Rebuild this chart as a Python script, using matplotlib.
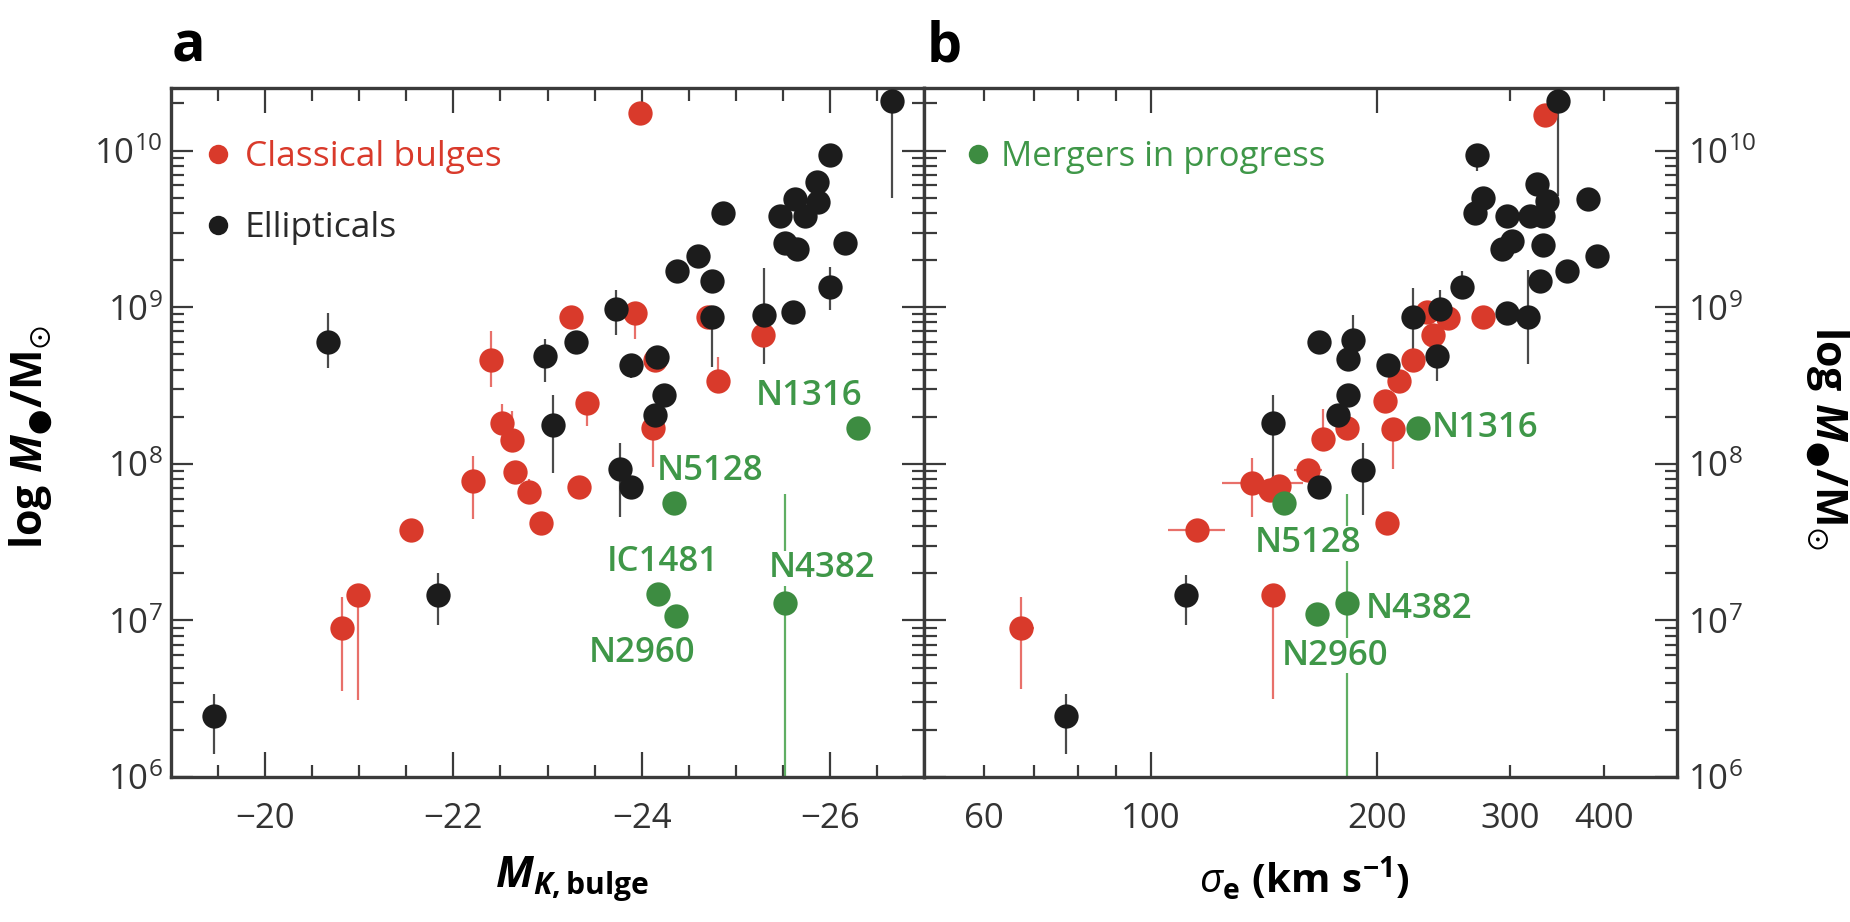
import numpy as np
import matplotlib
matplotlib.use("Agg")
import matplotlib.pyplot as plt
from matplotlib.lines import Line2D
from matplotlib.ticker import FixedLocator, FuncFormatter, LogLocator, NullFormatter, LogFormatterMathtext

plt.rcParams["font.family"] = ["Open Sans", "DejaVu Sans"]
plt.rcParams["mathtext.fontset"] = "custom"
plt.rcParams["mathtext.rm"] = "Open Sans"
plt.rcParams["mathtext.it"] = "Open Sans:italic"
plt.rcParams["mathtext.bf"] = "Open Sans:bold"
plt.rcParams["mathtext.bfit"] = "Open Sans:bold:italic"
plt.rcParams["mathtext.default"] = "regular"

RED = "#d93a2b"
RED_ERR = "#e8706a"
BLACK = "#1c1c1c"
BLACK_ERR = "#4a4a4a"
GREEN = "#3d8c41"
GREEN_TXT = "#3f9748"
GREEN_ERR = "#5fae63"
AXC = "#3a3a3a"

# ---- panel a : M_K,bulge vs log M_BH ----
bulge_mk = [-20.82, -20.99, -21.55, -22.21, -22.40, -22.52, -22.62, -22.66, -22.80, -22.93,
            -23.25, -23.33, -23.42, -23.93, -23.98, -24.12, -24.14, -24.71, -24.81, -25.29]
bulge_logm_a = [6.95, 7.16, 7.58, 7.89, 8.66, 8.26, 8.15, 7.95, 7.82, 7.62,
                8.94, 7.85, 8.39, 8.96, 10.24, 8.23, 8.66, 8.94, 8.53, 8.82]
bulge_lo_a = [6.55, 6.49, 7.58, 7.65, 8.49, 8.26, 8.15, 7.95, 7.78, 7.62,
              8.94, 7.85, 8.24, 8.80, 10.24, 7.98, 8.66, 8.94, 8.53, 8.82]
bulge_hi_a = [7.15, 7.16, 7.58, 8.05, 8.85, 8.38, 8.34, 7.95, 7.90, 7.62,
              8.94, 7.85, 8.39, 8.96, 10.24, 8.23, 8.66, 8.94, 8.68, 8.82]

ell_mk = [-19.46, -20.67, -21.84, -22.97, -23.06, -23.30, -23.73, -23.77, -23.89, -23.89,
          -24.16, -24.24, -24.14, -24.38, -24.60, -24.75, -24.75, -24.86, -25.30, -25.61,
          -26.00, -25.47, -25.74, -25.63, -25.52, -25.65, -25.86, -25.87, -26.00, -26.16, -26.66]
ell_logm_a = [6.39, 8.78, 7.16, 8.69, 8.25, 8.78, 8.99, 7.97, 7.85, 8.63,
              8.68, 8.44, 8.31, 9.23, 9.33, 9.17, 8.94, 9.60, 8.95, 8.97,
              9.13, 9.58, 9.58, 9.69, 9.41, 9.37, 9.80, 9.67, 9.97, 9.41, 10.32]
ell_lo_a = [6.15, 8.61, 6.97, 8.52, 7.94, 8.78, 8.82, 7.66, 7.85, 8.55,
            8.68, 8.44, 8.25, 9.23, 9.33, 9.17, 8.62, 9.60, 8.64, 8.97,
            8.98, 9.58, 9.58, 9.69, 9.41, 9.37, 9.80, 9.67, 9.97, 9.41, 9.70]
ell_hi_a = [6.53, 8.96, 7.30, 8.80, 8.44, 8.78, 9.11, 8.13, 7.85, 8.63,
            8.68, 8.44, 8.31, 9.23, 9.40, 9.17, 8.94, 9.60, 9.25, 8.97,
            9.26, 9.58, 9.58, 9.69, 9.41, 9.37, 9.80, 9.67, 10.02, 9.41, 10.50]

merger_names_a = ["N5128", "N1316", "IC1481", "N2960", "N4382"]
merger_mk = [-24.34, -26.30, -24.17, -24.37, -25.52]
merger_logm_a = [7.75, 8.23, 7.17, 7.03, 7.11]
merger_lo_a = [7.75, 8.23, 7.17, 7.03, 5.00]
merger_hi_a = [7.75, 8.23, 7.17, 7.03, 7.81]

# ---- panel b : sigma_e vs log M_BH ----
bulge_sig = [67.3, 145.2, 115.3, 206.0, 136.4, 144.0, 148.0, 161.8, 169.4, 182.4,
             209.8, 204.7, 214.0, 223.0, 237.0, 248.0, 233.0, 276.0, 334.0]
bulge_sig_lo = [65.0, 141.0, 105.5, 199.0, 124.5, 139.0, 143.0, 155.0, 164.0, 176.0,
                203.0, 198.0, 207.0, 216.0, 229.0, 240.0, 226.0, 267.0, 323.0]
bulge_sig_hi = [70.0, 151.0, 125.6, 213.0, 159.3, 149.0, 153.0, 169.0, 175.0, 189.0,
                217.0, 212.0, 221.0, 230.0, 245.0, 256.0, 240.0, 285.0, 345.0]
bulge_logm_b = [6.95, 7.16, 7.58, 7.62, 7.88, 7.83, 7.86, 7.96, 8.16, 8.23,
                8.22, 8.40, 8.53, 8.66, 8.82, 8.93, 8.97, 8.94, 10.23]
bulge_lo_b = [6.56, 6.50, 7.58, 7.62, 7.66, 7.83, 7.86, 7.96, 8.16, 8.23,
              7.97, 8.40, 8.53, 8.66, 8.82, 8.93, 8.97, 8.94, 10.23]
bulge_hi_b = [7.15, 7.16, 7.58, 7.62, 8.04, 7.83, 7.86, 7.96, 8.35, 8.23,
              8.22, 8.40, 8.53, 8.66, 8.82, 8.93, 8.97, 8.94, 10.23]

ell_sig = [77.3, 111.4, 191.4, 167.5, 145.2, 177.4, 183.0, 167.5, 185.8, 183.0,
           206.6, 240.0, 223.0, 242.0, 259.0, 297.0, 317.0, 329.0, 357.0, 392.0,
           293.0, 302.0, 332.0, 381.0, 270.0, 297.0, 319.0, 332.0, 276.0, 336.0,
           326.0, 271.0, 347.5]
ell_logm_b = [6.39, 7.16, 7.96, 7.85, 8.26, 8.31, 8.44, 8.78, 8.79, 8.67,
              8.63, 8.69, 8.94, 8.99, 9.13, 8.96, 8.94, 9.17, 9.23, 9.33,
              9.37, 9.42, 9.40, 9.69, 9.60, 9.58, 9.58, 9.58, 9.70, 9.68,
              9.79, 9.97, 10.32]
ell_lo_b = [6.15, 6.97, 7.67, 7.85, 7.91, 8.31, 8.44, 8.78, 8.79, 8.67,
            8.63, 8.53, 8.62, 8.85, 9.13, 8.96, 8.64, 9.17, 9.23, 9.33,
            9.37, 9.42, 9.40, 9.62, 9.60, 9.58, 9.58, 9.58, 9.70, 9.68,
            9.79, 9.87, 9.71]
ell_hi_b = [6.53, 7.29, 8.13, 7.85, 8.44, 8.31, 8.44, 8.78, 8.95, 8.67,
            8.63, 8.69, 9.12, 9.11, 9.23, 8.96, 9.24, 9.17, 9.23, 9.40,
            9.37, 9.42, 9.40, 9.69, 9.60, 9.58, 9.58, 9.58, 9.70, 9.68,
            9.79, 10.02, 10.50]

merger_names_b = ["N5128", "N1316", "N2960", "N4382"]
merger_sig = [150.4, 226.5, 166.4, 182.4]
merger_logm_b = [7.75, 8.23, 7.04, 7.11]
merger_lo_b = [7.75, 8.23, 7.04, 5.00]
merger_hi_b = [7.75, 8.23, 7.04, 7.81]

# label offsets (points) and alignment, keyed by name
lab_a = {"N1316": (-35, 23, "center"), "N5128": (26, 23, "center"), "IC1481": (4, 23, "center"),
         "N4382": (27, 25, "center"), "N2960": (-25, -27, "center")}
lab_b = {"N1316": (10, 0, "left"), "N5128": (17, -29, "center"),
         "N4382": (13, -4, "left"), "N2960": (13, -30, "center")}


def draw_group(ax, x, logm, lo, hi, color, ecolor, xlo=None, xhi=None, ms=17.5):
    x = np.asarray(x, float)
    m = 10 ** np.asarray(logm)
    yerr = [m - 10 ** np.asarray(lo), 10 ** np.asarray(hi) - m]
    xerr = None
    if xlo is not None:
        xerr = [x - np.asarray(xlo), np.asarray(xhi) - x]
    ax.errorbar(x, m, yerr=yerr, xerr=xerr, fmt="none", ecolor=ecolor,
                elinewidth=1.6, capsize=0, zorder=2)
    ax.plot(x, m, "o", ms=ms, color=color, mew=0, zorder=3, clip_on=False)


fig = plt.figure(figsize=(18.5, 9.22), dpi=100)
W, H = 1850, 922
axL = fig.add_axes([171 / W, 1 - 777 / H, 753 / W, 689 / H])
axR = fig.add_axes([924 / W, 1 - 777 / H, 753 / W, 689 / H])

# panel a
draw_group(axL, bulge_mk, bulge_logm_a, bulge_lo_a, bulge_hi_a, RED, RED_ERR)
draw_group(axL, ell_mk, ell_logm_a, ell_lo_a, ell_hi_a, BLACK, BLACK_ERR)
draw_group(axL, merger_mk, merger_logm_a, merger_lo_a, merger_hi_a, GREEN, GREEN_ERR)
for name, x, lm in zip(merger_names_a, merger_mk, merger_logm_a):
    dx, dy, ha = lab_a[name]
    axL.annotate(name, (x, 10 ** lm), xytext=(dx, dy), textcoords="offset points",
                 ha=ha, va="center", fontsize=25, fontweight="semibold", color=GREEN_TXT,
                 zorder=4, bbox=dict(facecolor="white", edgecolor="none", pad=0.5))

# panel b
draw_group(axR, bulge_sig, bulge_logm_b, bulge_lo_b, bulge_hi_b, RED, RED_ERR,
           xlo=bulge_sig_lo, xhi=bulge_sig_hi)
draw_group(axR, ell_sig, ell_logm_b, ell_lo_b, ell_hi_b, BLACK, BLACK_ERR)
draw_group(axR, merger_sig, merger_logm_b, merger_lo_b, merger_hi_b, GREEN, GREEN_ERR)
for name, x, lm in zip(merger_names_b, merger_sig, merger_logm_b):
    dx, dy, ha = lab_b[name]
    axR.annotate(name, (x, 10 ** lm), xytext=(dx, dy), textcoords="offset points",
                 ha=ha, va="center", fontsize=25, fontweight="semibold", color=GREEN_TXT,
                 zorder=4, bbox=dict(facecolor="white", edgecolor="none", pad=0.3))

for ax in (axL, axR):
    ax.set_yscale("log")
    ax.set_ylim(1e6, 10 ** 10.40)
    ax.yaxis.set_major_locator(LogLocator(base=10, numticks=10))
    ax.yaxis.set_minor_locator(LogLocator(base=10, subs=np.arange(2, 10), numticks=20))
    ax.yaxis.set_minor_formatter(NullFormatter())
    ax.yaxis.set_major_formatter(LogFormatterMathtext())
    for s in ax.spines.values():
        s.set_linewidth(2.4)
        s.set_color(AXC)
    ax.tick_params(axis="x", which="major", direction="in", length=18, width=1.6,
                   top=True, bottom=True, color=AXC, labelsize=25, labelcolor="#333333", pad=18)
    ax.tick_params(axis="x", which="minor", direction="in", length=9, width=1.6,
                   top=True, bottom=True, color=AXC, labelsize=25, labelcolor="#333333", pad=18)
    ax.tick_params(axis="y", which="major", direction="in", length=16, width=1.6,
                   left=True, right=True, color=AXC, labelsize=25, labelcolor="#333333")
    ax.tick_params(axis="y", which="minor", direction="in", length=9, width=1.6,
                   left=True, right=True, color=AXC)

axL.set_xlim(-19, -27)
axL.xaxis.set_major_locator(FixedLocator([-20, -22, -24, -26]))
axL.xaxis.set_minor_locator(FixedLocator(np.arange(-19.5, -27.0, -0.5)))
axL.xaxis.set_major_formatter(FuncFormatter(lambda v, p: "\u2212%d" % abs(v)))
axL.tick_params(axis="y", labelleft=True, labelright=False, pad=6)

axR.set_xscale("log")
axR.set_xlim(50, 500)
axR.xaxis.set_major_locator(FixedLocator([100, 200]))
axR.xaxis.set_minor_locator(FixedLocator([60, 70, 80, 90, 300, 400]))
axR.xaxis.set_major_formatter(FuncFormatter(lambda v, p: "%d" % v))
axR.xaxis.set_minor_formatter(FuncFormatter(lambda v, p: "%d" % v if v in (60, 300, 400) else ""))
axR.tick_params(axis="y", labelleft=False, labelright=True, pad=8)

# axis labels
ylab = r"$\mathbf{log}\ \mathbfit{M}_{●}\mathbf{/M}_{\odot}$"
axL.set_ylabel(ylab, fontsize=31, va="center")
axL.yaxis.set_label_coords(-0.185, 0.493)
axR.yaxis.set_label_position("right")
axR.set_ylabel(ylab, fontsize=31, rotation=-90, va="center")
axR.yaxis.set_label_coords(1.199, 0.493)

axL.set_xlabel(r"$\mathbfit{M}_{\mathbfit{K}\mathbf{,bulge}}$", fontsize=31, va="center")
axL.xaxis.set_label_coords(0.533, -0.148)
axR.set_xlabel(r"$\mathit{\sigma}_{\mathbf{e}}\ \mathbf{(km\ s^{-1})}$", fontsize=29, va="center")
axR.xaxis.set_label_coords(0.505, -0.148)

# legends
h_red = Line2D([], [], ls="", marker="o", ms=14, color=RED, mew=0)
h_blk = Line2D([], [], ls="", marker="o", ms=14, color=BLACK, mew=0)
h_grn = Line2D([], [], ls="", marker="o", ms=14, color=GREEN, mew=0)
legL = axL.legend([h_red, h_blk], ["Classical bulges", "Ellipticals"], loc="upper left",
                  bbox_to_anchor=(0.03, 0.945), frameon=False, fontsize=25.5,
                  handlelength=0.6, handletextpad=0.45, labelspacing=1.05, borderaxespad=0,
                  labelcolor=[RED, "#2a2a2a"])
legR = axR.legend([h_grn], ["Mergers in progress"], loc="upper left",
                  bbox_to_anchor=(0.04, 0.945), frameon=False, fontsize=25,
                  handlelength=0.6, handletextpad=0.35, borderaxespad=0,
                  labelcolor=[GREEN_TXT])

fig.text(172 / W, 1 - 61 / H, "a", fontsize=40, fontweight="bold", ha="left", va="baseline")
fig.text(927 / W, 1 - 61 / H, "b", fontsize=40, fontweight="bold", ha="left", va="baseline")

fig.savefig("out.png", dpi=100)
